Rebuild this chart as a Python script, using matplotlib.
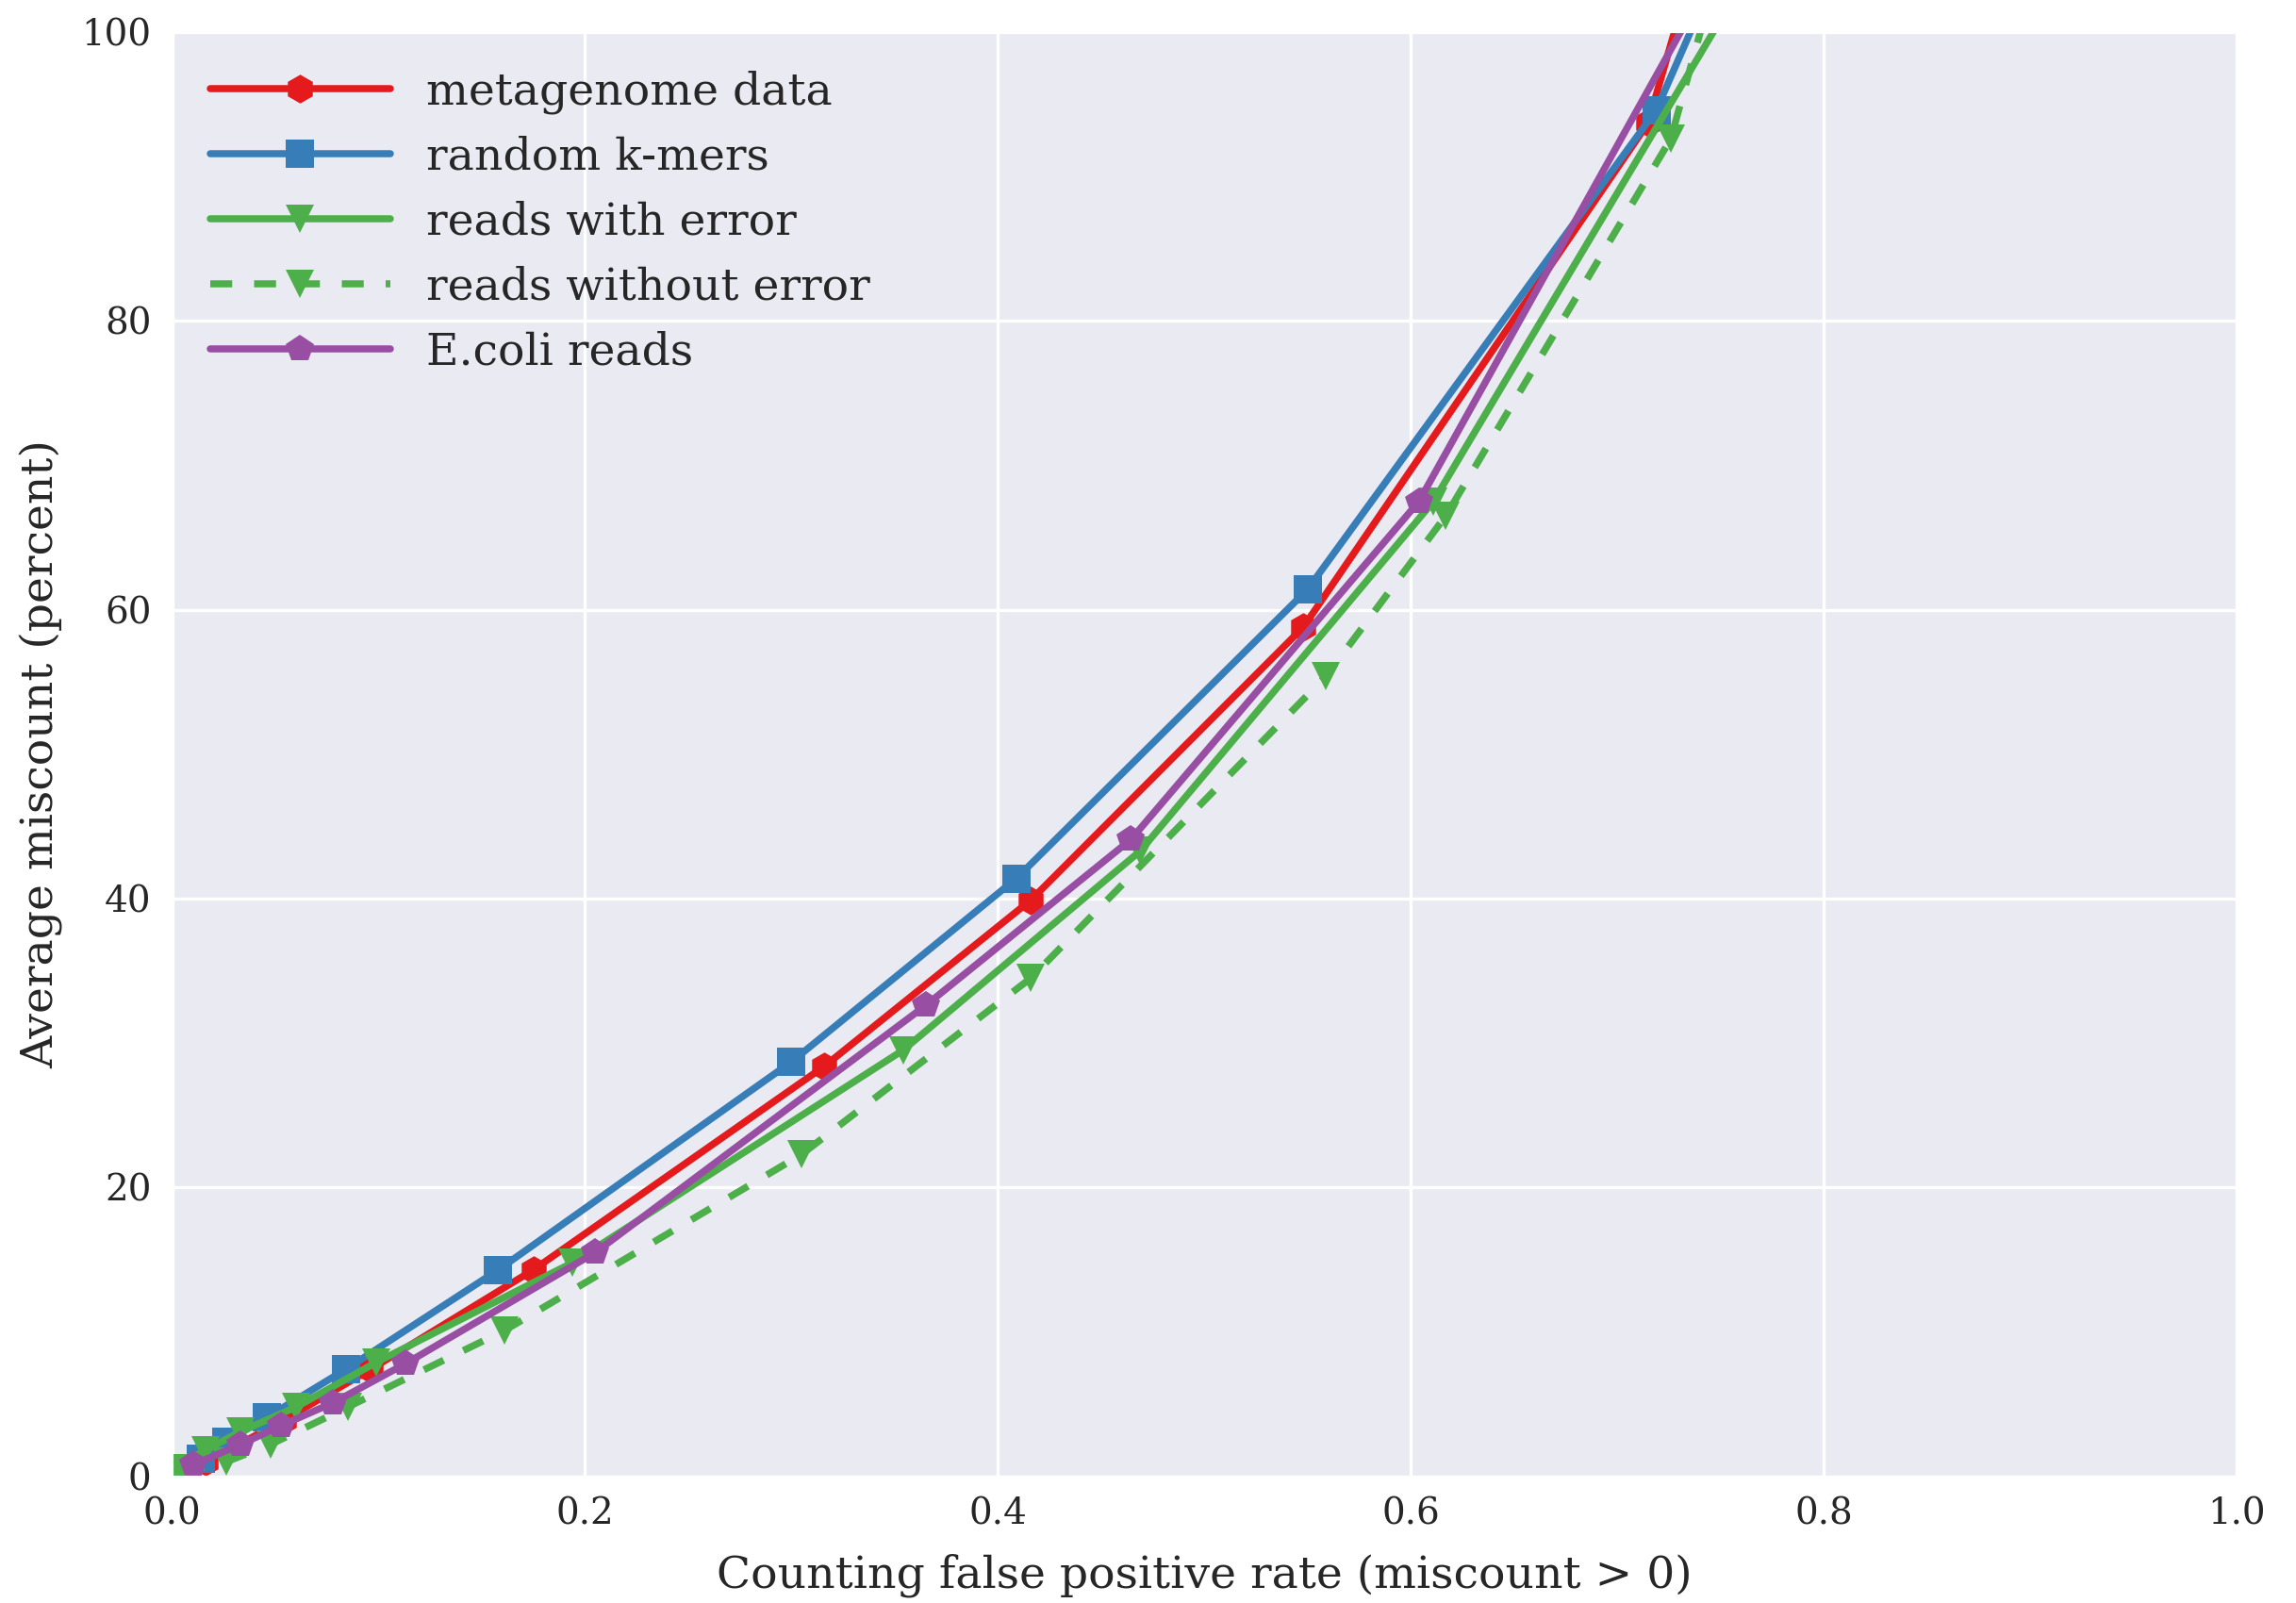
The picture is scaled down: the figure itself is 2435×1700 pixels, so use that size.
import matplotlib
matplotlib.use("Agg")
from matplotlib import pyplot as plt
import seaborn as sns

sns.set_style("darkgrid")
plt.rcParams['font.family'] = ['DejaVu Serif']
plt.rcParams['grid.linewidth'] = 1.2

# false positive rate (x) vs. average miscount in percent (y)
meta_x = [0.005, 0.016, 0.031, 0.054, 0.096, 0.175, 0.316, 0.416, 0.548, 0.715, 0.75]
meta_y = [0.4, 1.0, 2.1, 3.9, 7.4, 14.3, 28.4, 39.9, 58.8, 93.7, 111.0]

rand_x = [0.004, 0.014, 0.026, 0.046, 0.084, 0.158, 0.300, 0.409, 0.550, 0.719, 0.76]
rand_y = [0.4, 1.2, 2.4, 4.1, 7.4, 14.3, 28.7, 41.4, 61.4, 94.6, 108.0]

err_x = [0.001, 0.016, 0.033, 0.060, 0.099, 0.194, 0.354, 0.469, 0.611, 0.78]
err_y = [0.6, 1.8, 3.1, 4.8, 7.9, 14.8, 29.5, 43.3, 67.5, 108.0]

noerr_x = [0.005, 0.026, 0.0475, 0.085, 0.161, 0.305, 0.416, 0.559, 0.617, 0.726, 0.75]
noerr_y = [0.3, 1.0, 2.2, 4.8, 10.1, 22.3, 34.5, 55.4, 66.5, 92.6, 105.0]

ecoli_x = [0.010, 0.033, 0.0525, 0.078, 0.113, 0.205, 0.365, 0.4645, 0.604, 0.76]
ecoli_y = [0.8, 2.2, 3.5, 5.1, 7.8, 15.5, 32.6, 44.1, 67.5, 107.5]

labels = ['metagenome data', 'random k-mers', 'reads with error',
          'reads without error', 'E.coli reads']

fig = plt.figure(figsize=(12.175, 8.5), dpi=200)
ax = fig.add_axes([0.075, 0.079, 0.899, 0.901])

lw = 2.7
ms = 11
ax.plot(meta_x, meta_y, color='#e41a1c', marker='h', lw=lw, ms=ms, mew=0, label=labels[0])
ax.plot(rand_x, rand_y, color='#377eb8', marker='s', lw=lw, ms=ms, mew=0, label=labels[1])
ax.plot(err_x, err_y, color='#4daf4a', marker='v', lw=lw, ms=ms, mew=0, label=labels[2])
ax.plot(noerr_x, noerr_y, color='#4daf4a', marker='v', lw=lw, ms=ms, mew=0,
        linestyle=(0, (3.1, 3.1)), label=labels[3])
ax.plot(ecoli_x, ecoli_y, color='#984ea3', marker='p', lw=lw, ms=ms, mew=0, label=labels[4])

ax.set_xlim(0, 1.0)
ax.set_ylim(0, 100)
ax.set_xticks([0.0, 0.2, 0.4, 0.6, 0.8, 1.0])
ax.set_yticks([0, 20, 40, 60, 80, 100])
ax.tick_params(labelsize=14, colors='#262626', length=0, pad=8)
ax.set_xlabel('Counting false positive rate (miscount > 0)', fontsize=17, color='#262626',
              labelpad=8)
ax.set_ylabel('Average miscount (percent)', fontsize=17, color='#262626', labelpad=7)

ax.legend(loc='upper left', fontsize=17, frameon=False, handlelength=4.05,
          labelspacing=0.5, borderaxespad=0.45)

fig.savefig('out.png', dpi=200)
